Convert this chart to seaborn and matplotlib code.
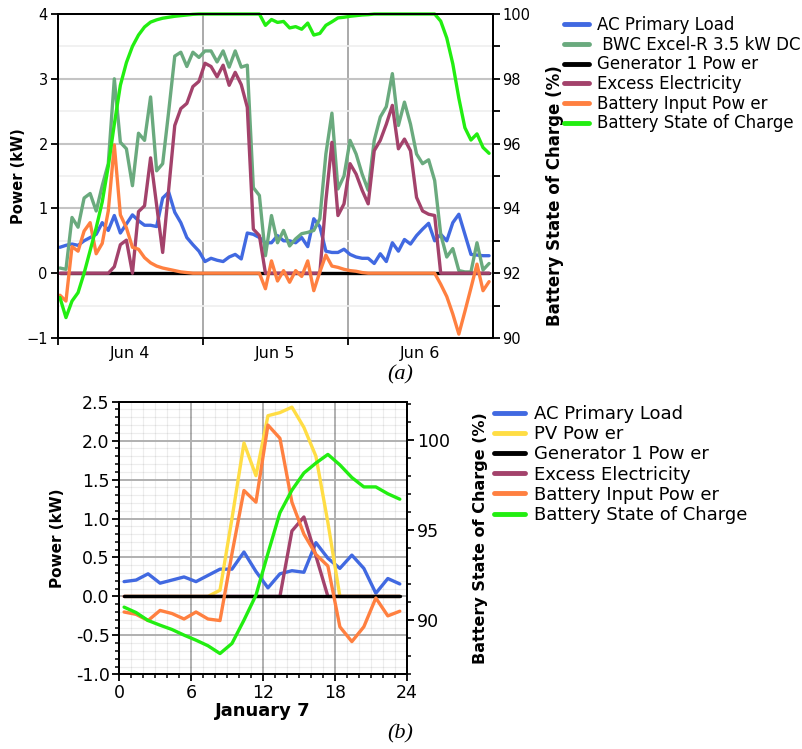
import numpy as np
import pandas as pd
import matplotlib
matplotlib.use("Agg")
import matplotlib.pyplot as plt
import seaborn as sns
from matplotlib.ticker import MultipleLocator, FormatStrFormatter, FixedLocator

# ---- panel (a): Jun 4 - Jun 6, hourly ----
day_labels = ["Jun 4", "Jun 5", "Jun 6"]
hours_a = np.arange(72) + 0.4

load_a = [0.40, 0.43, 0.45, 0.43, 0.50, 0.55, 0.60, 0.78, 0.66, 0.89, 0.62, 0.76,
          0.90, 0.81, 0.74, 0.74, 0.72, 1.16, 1.25, 0.94, 0.78, 0.55, 0.44, 0.34,
          0.18, 0.23, 0.20, 0.18, 0.25, 0.29, 0.22, 0.62, 0.60, 0.55, 0.47, 0.47,
          0.58, 0.50, 0.50, 0.47, 0.55, 0.41, 0.84, 0.72, 0.34, 0.32, 0.32, 0.37,
          0.29, 0.25, 0.23, 0.23, 0.15, 0.30, 0.18, 0.47, 0.34, 0.52, 0.45, 0.58,
          0.68, 0.77, 0.50, 0.60, 0.50, 0.78, 0.91, 0.60, 0.29, 0.28, 0.27, 0.27]
wind_a = [0.08, 0.06, 0.86, 0.71, 1.16, 1.23, 0.96, 1.35, 1.69, 3.00, 2.02, 1.92,
          1.35, 2.16, 2.05, 2.72, 1.58, 1.69, 2.50, 3.35, 3.41, 3.19, 3.41, 3.33,
          3.43, 3.43, 3.26, 3.43, 3.18, 3.43, 3.18, 3.21, 1.32, 1.20, 0.27, 0.89,
          0.47, 0.66, 0.42, 0.53, 0.61, 0.63, 0.66, 0.84, 1.84, 2.47, 1.30, 1.50,
          2.05, 1.84, 1.53, 1.28, 2.05, 2.41, 2.57, 3.08, 2.28, 2.64, 2.30, 1.84,
          1.69, 1.75, 1.43, 0.60, 0.25, 0.38, 0.04, 0.02, 0.02, 0.47, 0.05, 0.15]
gen_a = [0.0] * 72
excess_a = [0.0, 0.0, 0.0, 0.0, 0.0, 0.0, 0.0, 0.0, 0.0, 0.10, 0.44, 0.51,
            0.0, 0.95, 1.04, 1.78, 1.05, 0.32, 1.30, 2.28, 2.54, 2.62, 2.88, 2.96,
            3.24, 3.19, 3.03, 3.21, 2.90, 3.10, 2.91, 2.56, 0.68, 0.58, 0.0, 0.0,
            0.0, 0.0, 0.0, 0.0, 0.0, 0.0, 0.0, 0.0, 1.12, 2.02, 0.89, 1.07,
            1.69, 1.53, 1.28, 1.07, 1.89, 2.05, 2.30, 2.59, 1.92, 2.07, 1.89, 1.17,
            0.96, 0.91, 0.89, 0.0, 0.0, 0.0, 0.0, 0.0, 0.0, 0.0, 0.0, 0.0]
battery_a = [-0.34, -0.43, 0.41, 0.34, 0.65, 0.78, 0.30, 0.46, 0.96, 1.98, 0.90, 0.70,
             0.40, 0.37, 0.24, 0.16, 0.11, 0.08, 0.06, 0.04, 0.02, 0.01, 0.0, 0.0,
             0.0, 0.0, 0.0, 0.0, 0.0, 0.0, 0.0, 0.0, 0.0, 0.0, -0.24, 0.19,
             -0.12, 0.04, -0.14, 0.04, -0.05, 0.19, -0.27, 0.02, 0.28, 0.11, 0.09, 0.06,
             0.04, 0.03, 0.01, 0.0, 0.0, 0.0, 0.0, 0.0, 0.0, 0.0, 0.0, 0.0,
             0.0, 0.0, 0.0, -0.17, -0.36, -0.63, -0.94, -0.59, -0.23, 0.14, -0.27, -0.13]
soc_a = [91.25, 90.63, 91.14, 91.40, 92.0, 92.7, 93.4, 94.2, 95.3, 96.6, 97.8, 98.5,
         99.0, 99.35, 99.6, 99.75, 99.82, 99.87, 99.9, 99.93, 99.95, 99.97, 99.99, 100.0,
         100.0, 100.0, 100.0, 100.0, 100.0, 100.0, 100.0, 100.0, 100.0, 100.0, 99.65, 99.83,
         99.74, 99.77, 99.57, 99.61, 99.53, 99.72, 99.35, 99.40, 99.65, 99.76, 99.88, 99.9,
         99.93, 99.95, 99.97, 99.98, 100.0, 100.0, 100.0, 100.0, 100.0, 100.0, 100.0, 100.0,
         100.0, 100.0, 100.0, 99.78, 99.26, 98.46, 97.4, 96.49, 96.11, 96.3, 95.88, 95.7]

# ---- panel (b): January 7, hourly ----
hours_b = np.arange(24) + 0.4
load_b = [0.19, 0.21, 0.29, 0.17, 0.21, 0.25, 0.19, 0.27, 0.35, 0.35, 0.57, 0.32,
          0.11, 0.29, 0.33, 0.31, 0.69, 0.49, 0.36, 0.53, 0.36, 0.04, 0.23, 0.16]
pv_b = [0.0, 0.0, 0.0, 0.0, 0.0, 0.0, 0.0, 0.0, 0.08, 1.00, 1.97, 1.55,
        2.32, 2.36, 2.43, 2.17, 1.80, 0.95, 0.0, 0.0, 0.0, 0.0, 0.0, 0.0]
gen_b = [0.0] * 24
excess_b = [0.0, 0.0, 0.0, 0.0, 0.0, 0.0, 0.0, 0.0, 0.0, 0.0, 0.0, 0.0,
            0.0, 0.0, 0.84, 1.02, 0.52, 0.0, 0.0, 0.0, 0.0, 0.0, 0.0, 0.0]
battery_b = [-0.20, -0.23, -0.31, -0.18, -0.22, -0.29, -0.20, -0.29, -0.31, 0.55, 1.36, 1.21,
             2.20, 2.03, 1.21, 0.80, 0.54, 0.39, -0.39, -0.58, -0.39, -0.02, -0.25, -0.19]
soc_b = [90.72, 90.42, 89.98, 89.72, 89.48, 89.17, 88.89, 88.58, 88.15, 88.71, 90.0, 91.38,
         93.7, 95.95, 97.2, 98.15, 98.7, 99.18, 98.6, 97.9, 97.38, 97.38, 97.0, 96.7]

C_LOAD = '#4169E1'
C_WIND = '#6AAA7E'
C_GEN = '#000000'
C_EXC = '#A3426B'
C_BAT = '#FF8040'
C_SOC = '#22EE11'
C_PV = '#FFDD44'
LW = 2.4

sns.set_style("white")
plt.rcParams['font.family'] = ['DejaVu Sans']
plt.rcParams['text.color'] = 'black'
plt.rcParams['axes.labelcolor'] = 'black'
plt.rcParams['xtick.color'] = 'black'
plt.rcParams['ytick.color'] = 'black'
plt.rcParams['grid.linestyle'] = '-'

fig = plt.figure(figsize=(8.02, 7.49), dpi=100)
W, H = 802.0, 749.0


def px_axes(left, top, right, bottom):
    return fig.add_axes([left / W, 1 - bottom / H, (right - left) / W, (bottom - top) / H])


def style_spines(ax):
    for s in ax.spines.values():
        s.set_color('black')
        s.set_linewidth(1.4)


# ================= panel (a) =================
ax1 = px_axes(57.5, 14, 492.7, 338)
ax1r = ax1.twinx()

sns.lineplot(x=hours_a, y=load_a, ax=ax1, color=C_LOAD, lw=LW, label='AC Primary Load')
sns.lineplot(x=hours_a, y=wind_a, ax=ax1, color=C_WIND, lw=LW, label=' BWC Excel-R 3.5 kW DC')
sns.lineplot(x=hours_a, y=gen_a, ax=ax1, color=C_GEN, lw=LW, label='Generator 1 Pow er')
sns.lineplot(x=hours_a, y=excess_a, ax=ax1, color=C_EXC, lw=LW, label='Excess Electricity')
sns.lineplot(x=hours_a, y=battery_a, ax=ax1, color=C_BAT, lw=LW, label='Battery Input Pow er')
sns.lineplot(x=hours_a, y=soc_a, ax=ax1r, color=C_SOC, lw=LW, label='Battery State of Charge',
             clip_on=False)

ax1.set_xlim(0, 72)
ax1.set_ylim(-1, 4)
ax1r.set_ylim(90, 100)

ax1.xaxis.set_major_locator(FixedLocator([0, 24, 48]))
ax1.set_xticklabels([])
ax1.xaxis.set_minor_locator(FixedLocator([12, 36, 60]))
ax1.set_xticklabels(day_labels, minor=True)
ax1.tick_params(axis='x', which='major', direction='out', length=5, width=1.3, bottom=True)
ax1.tick_params(axis='x', which='minor', length=0, labelsize=11.5, pad=6)
ax1.yaxis.set_major_locator(MultipleLocator(1))
ax1.yaxis.set_minor_locator(MultipleLocator(0.5))
ax1.tick_params(axis='y', which='major', direction='out', length=5, width=1.3, left=True,
                labelsize=10.5, pad=2)
ax1.tick_params(axis='y', which='minor', length=0)
ax1r.yaxis.set_major_locator(MultipleLocator(2))
ax1r.yaxis.set_minor_locator(MultipleLocator(1))
ax1r.tick_params(axis='y', which='both', direction='out', length=5, width=1.3, right=True,
                 labelsize=10.5, pad=2)

ax1.grid(axis='y', which='major', color='#c4c4c4', lw=1.5, ls='-')
ax1.grid(axis='y', which='minor', color='#efefef', lw=1.2, ls='-')
ax1.grid(axis='x', which='major', color='#9c9c9c', lw=1.2, ls='solid')
ax1.set_axisbelow(True)

ax1.set_xlabel('')
ax1.set_ylabel('Power (kW)', fontsize=10.5, fontweight='bold')
ax1.yaxis.set_label_coords(-0.072, 0.5)
ax1r.set_ylabel('Battery State of Charge (%)', fontsize=12, fontweight='bold')
ax1r.yaxis.set_label_coords(1.122, 0.44)
style_spines(ax1)
style_spines(ax1r)

h1, l1 = ax1.get_legend_handles_labels()
h2, l2 = ax1r.get_legend_handles_labels()
for a in (ax1, ax1r):
    if a.get_legend() is not None:
        a.get_legend().remove()
leg1 = fig.legend(h1 + h2, l1 + l2, loc='upper left', bbox_to_anchor=(564 / W, 1 - 16 / H),
                  frameon=False, fontsize=12, handlelength=1.5, handletextpad=0.5,
                  labelspacing=0.1, borderpad=0, borderaxespad=0)
for ln in leg1.get_lines():
    ln.set_linewidth(3.5)

fig.text(400 / W, 1 - 375 / H, '(a)', ha='center', va='center', fontsize=16,
         fontstyle='italic', family='Liberation Serif')

# ================= panel (b) =================
ax2 = px_axes(119.3, 401.7, 407, 674.3)
ax2r = ax2.twinx()

sns.lineplot(x=hours_b, y=load_b, ax=ax2, color=C_LOAD, lw=LW, label='AC Primary Load', zorder=3)
sns.lineplot(x=hours_b, y=pv_b, ax=ax2, color=C_PV, lw=LW, label='PV Pow er', zorder=3)
sns.lineplot(x=hours_b, y=excess_b, ax=ax2, color=C_EXC, lw=LW, label='Excess Electricity', zorder=3)
sns.lineplot(x=hours_b, y=gen_b, ax=ax2, color=C_GEN, lw=LW, label='Generator 1 Pow er', zorder=4)
sns.lineplot(x=hours_b, y=battery_b, ax=ax2, color=C_BAT, lw=LW, label='Battery Input Pow er', zorder=5)
sns.lineplot(x=hours_b, y=soc_b, ax=ax2r, color=C_SOC, lw=LW, label='Battery State of Charge')

ax2.set_xlim(0, 24)
ax2.set_ylim(-1, 2.5)
ax2r.set_ylim(87, 102.1)
ax2.xaxis.set_major_locator(MultipleLocator(6))
ax2.xaxis.set_minor_locator(MultipleLocator(1))
ax2.yaxis.set_major_locator(MultipleLocator(0.5))
ax2.yaxis.set_minor_locator(MultipleLocator(0.1))
ax2.yaxis.set_major_formatter(FormatStrFormatter('%.1f'))
ax2r.yaxis.set_major_locator(MultipleLocator(5))
ax2r.yaxis.set_minor_locator(MultipleLocator(1))
ax2.tick_params(axis='both', which='major', direction='out', length=5, width=1.3,
                left=True, bottom=True, labelsize=12.5, pad=2)
ax2.tick_params(axis='both', which='minor', direction='out', length=3, width=1.1,
                left=True, bottom=True)
ax2r.tick_params(axis='y', which='major', direction='out', length=5, width=1.3, right=True,
                 labelsize=12.5, pad=2)
ax2r.tick_params(axis='y', which='minor', direction='out', length=3, width=1.1, right=True)

# translucent minor grid so it does not break the major lines where they cross
ax2.grid(which='minor', color='black', alpha=0.07, lw=0.9, ls='solid')
ax2.grid(which='major', color='#b0b0b0', alpha=1.0, lw=1.4, ls='solid')
ax2.set_axisbelow(True)

ax2.set_xlabel('January 7', fontsize=13, fontweight='bold', labelpad=0)
ax2.set_ylabel('Power (kW)', fontsize=11, fontweight='bold')
ax2.yaxis.set_label_coords(-0.19, 0.5)
ax2r.set_ylabel('Battery State of Charge (%)', fontsize=11.5, fontweight='bold')
ax2r.yaxis.set_label_coords(1.23, 0.5)
style_spines(ax2)
style_spines(ax2r)

h1, l1 = ax2.get_legend_handles_labels()
h2, l2 = ax2r.get_legend_handles_labels()
for a in (ax2, ax2r):
    if a.get_legend() is not None:
        a.get_legend().remove()
order = [0, 1, 3, 2, 4]
hb = [h1[i] for i in order] + h2
lb = [l1[i] for i in order] + l2
leg2 = fig.legend(hb, lb, loc='upper left', bbox_to_anchor=(494 / W, 1 - 405 / H),
                  frameon=False, fontsize=13, handlelength=1.7, handletextpad=0.5,
                  labelspacing=0.12, borderpad=0, borderaxespad=0)
for ln in leg2.get_lines():
    ln.set_linewidth(3.5)

fig.text(400 / W, 1 - 734 / H, '(b)', ha='center', va='center', fontsize=16,
         fontstyle='italic', family='Liberation Serif')

fig.savefig('out.png', dpi=100)
